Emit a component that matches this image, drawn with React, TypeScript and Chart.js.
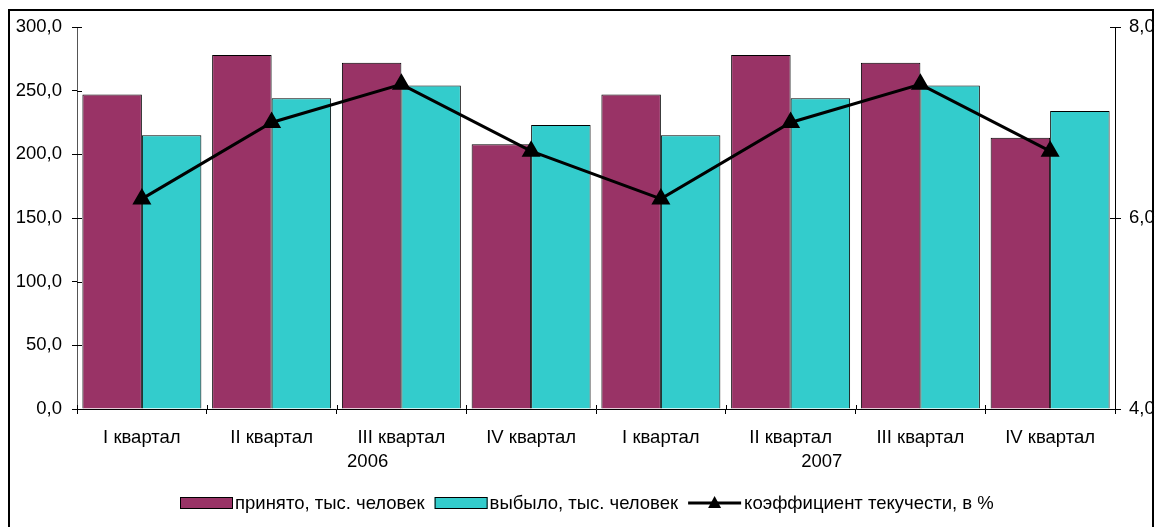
import React, { useEffect, useRef } from "react";
import { Chart, registerables } from "chart.js";

Chart.register(...registerables);

const categories = [
  "I квартал", "II квартал", "III квартал", "IV квартал",
  "I квартал", "II квартал", "III квартал", "IV квартал",
];
const years = ["2006", "2007"];
const hired = [247, 278, 272, 208, 247, 278, 272, 213];
const left = [215, 244, 254, 223, 215, 244, 254, 234];
const turnover = [6.2, 7.0, 7.4, 6.7, 6.2, 7.0, 7.4, 6.7];
const seriesNames = [
  "принято, тыс. человек",
  "выбыло, тыс. человек",
  "коэффициент текучести, в %",
];

const FONT = "'Liberation Sans', Arial, sans-serif";
const FS = 18.5;
const MAROON = "#993366";
const CYAN = "#33CCCC";

const fmt = (v: number) => Number(v).toFixed(1).replace(".", ",");

const extrasPlugin = {
  id: "extras",
  afterDraw(chart: any) {
    const ctx = chart.ctx;
    const x = chart.scales.x;
    const y = chart.scales.y;
    const y1 = chart.scales.y1;
    const area = chart.chartArea;
    ctx.save();
    ctx.strokeStyle = "#000";
    ctx.lineWidth = 1;
    // inner halves of tick marks
    ctx.beginPath();
    y.ticks.forEach((t: any) => {
      const py = Math.round(y.getPixelForValue(t.value)) + 0.5;
      ctx.moveTo(area.left, py);
      ctx.lineTo(area.left + 5, py);
    });
    y1.ticks.forEach((t: any) => {
      const py = Math.round(y1.getPixelForValue(t.value)) + 0.5;
      ctx.moveTo(area.right - 5, py);
      ctx.lineTo(area.right, py);
    });
    const cw = (area.right - area.left) / categories.length;
    for (let i = 0; i <= categories.length; i++) {
      const px = Math.round(area.left + i * cw) + 0.5;
      ctx.moveTo(px, area.bottom - 4);
      ctx.lineTo(px, area.bottom);
    }
    ctx.stroke();

    // year labels
    ctx.fillStyle = "#000";
    ctx.font = `${FS}px ${FONT}`;
    ctx.textAlign = "center";
    ctx.textBaseline = "middle";
    const yearPos = [1.74, 5.24];
    years.forEach((yr, i) => {
      ctx.fillText(yr, x.getPixelForValue(0) + yearPos[i] * cw, 462);
    });

    // legend (bars first, then line)
    const ly = 503;
    let lx = 180;
    ctx.textAlign = "left";
    const ds = chart.data.datasets;
    const order = [1, 2, 0];
    for (const i of order) {
      const d = ds[i];
      if (d.type === "line") {
        ctx.strokeStyle = "#000";
        ctx.lineWidth = 3;
        ctx.beginPath();
        ctx.moveTo(lx, ly);
        ctx.lineTo(lx + 53, ly);
        ctx.stroke();
        ctx.fillStyle = "#000";
        ctx.beginPath();
        ctx.moveTo(lx + 26.5, ly - 7);
        ctx.lineTo(lx + 33, ly + 5);
        ctx.lineTo(lx + 20, ly + 5);
        ctx.closePath();
        ctx.fill();
        lx += 56;
      } else {
        ctx.fillStyle = d.backgroundColor;
        ctx.fillRect(lx, ly - 6, 53, 12);
        ctx.strokeStyle = "#000";
        ctx.lineWidth = 1;
        ctx.strokeRect(lx + 0.5, ly - 6 + 0.5, 52, 11);
        lx += 55;
      }
      ctx.fillStyle = "#000";
      ctx.fillText(d.label, lx, ly + 1);
      lx += ctx.measureText(d.label).width + 10;
    }
    ctx.restore();
  },
};

export default function App() {
  const ref = useRef<HTMLCanvasElement>(null);
  useEffect(() => {
    if (!ref.current) return;
    const chart = new Chart(ref.current, {
      type: "bar",
      data: {
        labels: categories,
        datasets: [
          {
            type: "line",
            label: seriesNames[2],
            data: turnover,
            yAxisID: "y1",
            borderColor: "#000",
            backgroundColor: "#000",
            borderWidth: 3,
            pointStyle: "triangle",
            pointRadius: 8,
            pointBackgroundColor: "#000",
            pointBorderColor: "#000",
            tension: 0,
            order: 0,
          } as any,
          {
            type: "bar",
            label: seriesNames[0],
            data: hired,
            yAxisID: "y",
            backgroundColor: MAROON,
            borderColor: "#000",
            borderWidth: 1,
            categoryPercentage: 0.917,
            barPercentage: 1,
            order: 1,
          },
          {
            type: "bar",
            label: seriesNames[1],
            data: left,
            yAxisID: "y",
            backgroundColor: CYAN,
            borderColor: "#000",
            borderWidth: 1,
            categoryPercentage: 0.917,
            barPercentage: 1,
            order: 2,
          },
        ],
      },
      options: {
        responsive: false,
        animation: false,
        layout: { padding: { left: 0, right: 0, top: 27, bottom: 0 } },
        plugins: {
          legend: { display: false },
          tooltip: { enabled: false },
        },
        scales: {
          x: {
            grid: {
              display: true,
              offset: true,
              drawOnChartArea: false,
              tickLength: 5,
              color: "#000",
            },
            border: { display: true, color: "#000" },
            ticks: {
              color: "#000",
              font: { family: FONT, size: FS },
              padding: 13,
              maxRotation: 0,
              autoSkip: false,
            },
            afterFit: (s: any) => {
              s.height = 118;
            },
          },
          y: {
            position: "left",
            min: 0,
            max: 300,
            ticks: {
              stepSize: 50,
              color: "#000",
              font: { family: FONT, size: FS },
              padding: 10,
              callback: (v: any) => fmt(v),
            },
            grid: {
              drawOnChartArea: false,
              tickLength: 5,
              color: "#000",
            },
            border: { display: true, color: "#555" },
            afterFit: (s: any) => {
              s.width = 77;
            },
          },
          y1: {
            position: "right",
            min: 4,
            max: 8,
            ticks: {
              stepSize: 2,
              color: "#000",
              font: { family: FONT, size: FS },
              padding: 8,
              callback: (v: any) => fmt(v),
            },
            grid: {
              drawOnChartArea: false,
              tickLength: 6,
              color: "#000",
            },
            border: { display: true, color: "#000" },
            afterFit: (s: any) => {
              s.width = 43;
            },
          },
        },
      },
      plugins: [extrasPlugin],
    });
    return () => chart.destroy();
  }, []);

  return (
    <div style={{ position: "absolute", left: 0, top: 0, width: 1158, height: 527, overflow: "hidden", background: "#fff" }}>
      <canvas ref={ref} width={1158} height={527} style={{ display: "block", position: "absolute", left: 0, top: 0 }} />
      <div
        style={{
          position: "absolute",
          left: 8,
          top: 9,
          width: 1146,
          height: 540,
          border: "2px solid #000",
          boxSizing: "border-box",
          pointerEvents: "none",
        }}
      />
    </div>
  );
}
